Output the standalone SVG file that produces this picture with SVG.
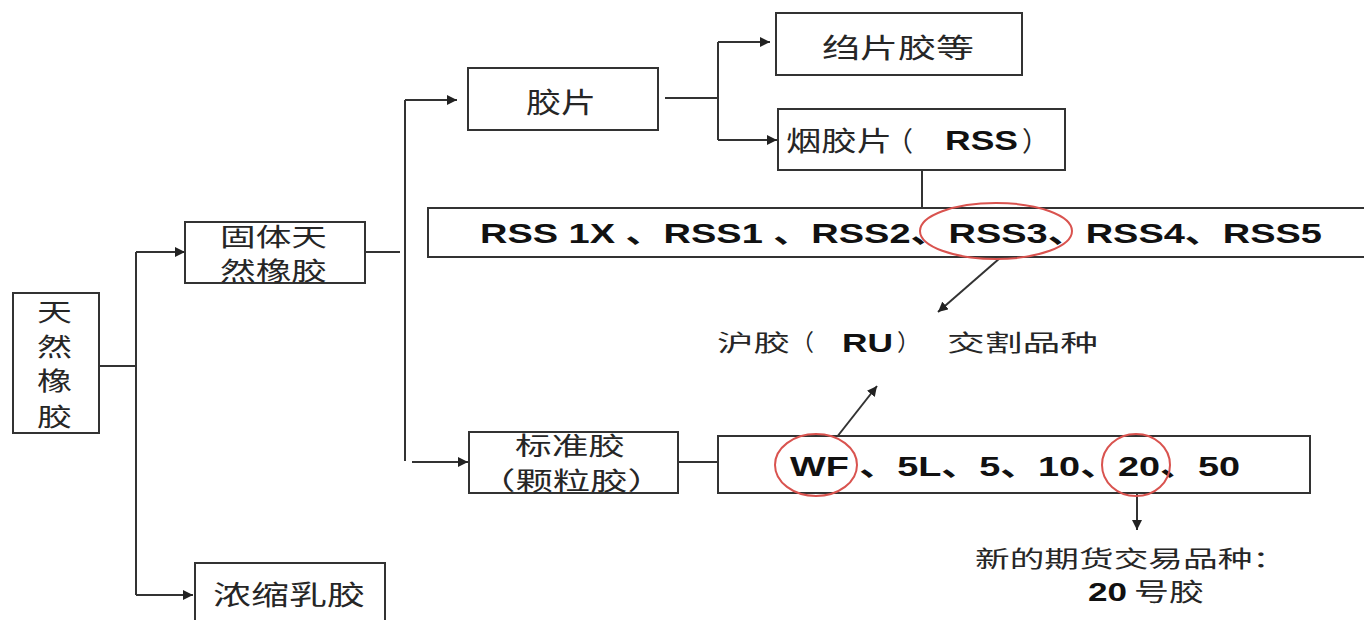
<svg xmlns="http://www.w3.org/2000/svg" width="1364" height="620" viewBox="0 0 1364 620">
<style>
.box{fill:#fff;stroke:#333;stroke-width:2}
.ln{fill:none;stroke:#333;stroke-width:2}
.t{font-family:"Liberation Sans","Noto Sans CJK SC",sans-serif;fill:#262626}
.b{font-weight:bold;fill:#111}
.red{fill:none;stroke:#d9534f;stroke-width:2}
</style>
<defs>
<marker id="ar" viewBox="0 0 10 10" refX="10" refY="5" markerWidth="10" markerHeight="10" markerUnits="userSpaceOnUse" orient="auto">
<path d="M0,0 L10,5 L0,10 z" fill="#222"/>
</marker>
</defs>
<rect width="1364" height="620" fill="#fff"/>
<g id="connectors">
<path class="ln" d="M99,366 H136"/>
<path class="ln" d="M136,252 V595"/>
<path class="ln" d="M136,252 H185" marker-end="url(#ar)"/>
<path class="ln" d="M136,595 H193" marker-end="url(#ar)"/>
<path class="ln" d="M365,252 H400"/>
<path class="ln" d="M405,100 V461"/>
<path class="ln" d="M405,100 H457" marker-end="url(#ar)"/>
<path class="ln" d="M412,462 H468" marker-end="url(#ar)"/>
<path class="ln" d="M665,98 H718"/>
<path class="ln" d="M718,42 V140"/>
<path class="ln" d="M718,42 H770" marker-end="url(#ar)"/>
<path class="ln" d="M718,140 H777" marker-end="url(#ar)"/>
<path class="ln" d="M922,170 V208"/>
<path class="ln" d="M678,462 H718"/>
<path class="ln" d="M1000,258 L938,312" marker-end="url(#ar)"/>
<path class="ln" d="M822,456 L877,386" marker-end="url(#ar)"/>
<path class="ln" d="M1137,462 V530" marker-end="url(#ar)"/>
</g>
<g id="n-tianran">
<rect class="box" x="13" y="293" width="86" height="140"/>
<g class="t" style="font-size:25px">
<text x="37" y="321" textLength="35" lengthAdjust="spacingAndGlyphs">天</text>
<text x="37" y="356" textLength="35" lengthAdjust="spacingAndGlyphs">然</text>
<text x="37" y="390" textLength="35" lengthAdjust="spacingAndGlyphs">橡</text>
<text x="37" y="426" textLength="35" lengthAdjust="spacingAndGlyphs">胶</text>
</g>
</g>
<g id="n-guti">
<rect class="box" x="185" y="222" width="180" height="61"/>
<g class="t" style="font-size:25px">
<text x="220" y="246" textLength="107" lengthAdjust="spacingAndGlyphs">固体天</text>
<text x="220" y="280" textLength="107" lengthAdjust="spacingAndGlyphs">然橡胶</text>
</g>
</g>
<g id="n-nongsuo">
<rect class="box" x="195" y="563" width="190" height="70"/>
<text class="t" style="font-size:27px" x="213" y="605" textLength="152" lengthAdjust="spacingAndGlyphs">浓缩乳胶</text>
</g>
<g id="n-jiaopian">
<rect class="box" x="468" y="68" width="190" height="62"/>
<text class="t" style="font-size:28px" x="526" y="113" textLength="70" lengthAdjust="spacingAndGlyphs">胶片</text>
</g>
<g id="n-zhoupian">
<rect class="box" x="776" y="13" width="246" height="62"/>
<text class="t" style="font-size:27px" x="822" y="58" textLength="152" lengthAdjust="spacingAndGlyphs">绉片胶等</text>
</g>
<g id="n-yanjiaopian">
<rect class="box" x="778" y="109" width="287" height="61"/>
<g class="t" style="font-size:27px">
<text x="786" y="151" textLength="106" lengthAdjust="spacingAndGlyphs">烟胶片</text>
<text x="886" y="151">（</text>
<text class="b" x="945" y="150" textLength="73" lengthAdjust="spacingAndGlyphs">RSS</text>
<text x="1022" y="151">）</text>
</g>
</g>
<g id="n-rss">
<rect class="box" x="428" y="208" width="945" height="49"/>
<text class="t b" style="font-size:28px" x="480" y="243" textLength="842" lengthAdjust="spacingAndGlyphs">RSS 1X 、RSS1 、RSS2、RSS3、RSS4、RSS5</text>
<ellipse class="red" cx="996" cy="231" rx="76" ry="28"/>
</g>
<g id="n-hujiao" class="t" style="font-size:23px">
<text x="717" y="351" textLength="73" lengthAdjust="spacingAndGlyphs">沪胶</text>
<text x="791" y="351">（</text>
<text class="b" style="font-size:25px" x="842" y="352" textLength="51" lengthAdjust="spacingAndGlyphs">RU</text>
<text x="897" y="351">）</text>
<text x="947" y="351" textLength="151" lengthAdjust="spacingAndGlyphs">交割品种</text>
</g>
<g id="n-biaozhun">
<rect class="box" x="469" y="432" width="209" height="61"/>
<g class="t" style="font-size:25px">
<text x="515" y="455" textLength="110" lengthAdjust="spacingAndGlyphs">标准胶</text>
<text x="478" y="490" textLength="187" lengthAdjust="spacingAndGlyphs">（颗粒胶）</text>
</g>
</g>
<g id="n-wf">
<rect class="box" x="718" y="436" width="592" height="57"/>
<text class="t b" style="font-size:28px" x="790" y="476" textLength="450" lengthAdjust="spacingAndGlyphs">WF 、5L、5、10、20、50</text>
<ellipse class="red" cx="816" cy="465" rx="41" ry="31"/>
<ellipse class="red" cx="1136" cy="465" rx="34" ry="31"/>
</g>
<g id="n-xin" class="t">
<text style="font-size:23px" x="975" y="567" textLength="312" lengthAdjust="spacingAndGlyphs">新的期货交易品种：</text>
<text class="b" style="font-size:25px" x="1088" y="601" textLength="39" lengthAdjust="spacingAndGlyphs">20</text>
<text style="font-size:25px" x="1134" y="601" textLength="70" lengthAdjust="spacingAndGlyphs">号胶</text>
</g>
</svg>
